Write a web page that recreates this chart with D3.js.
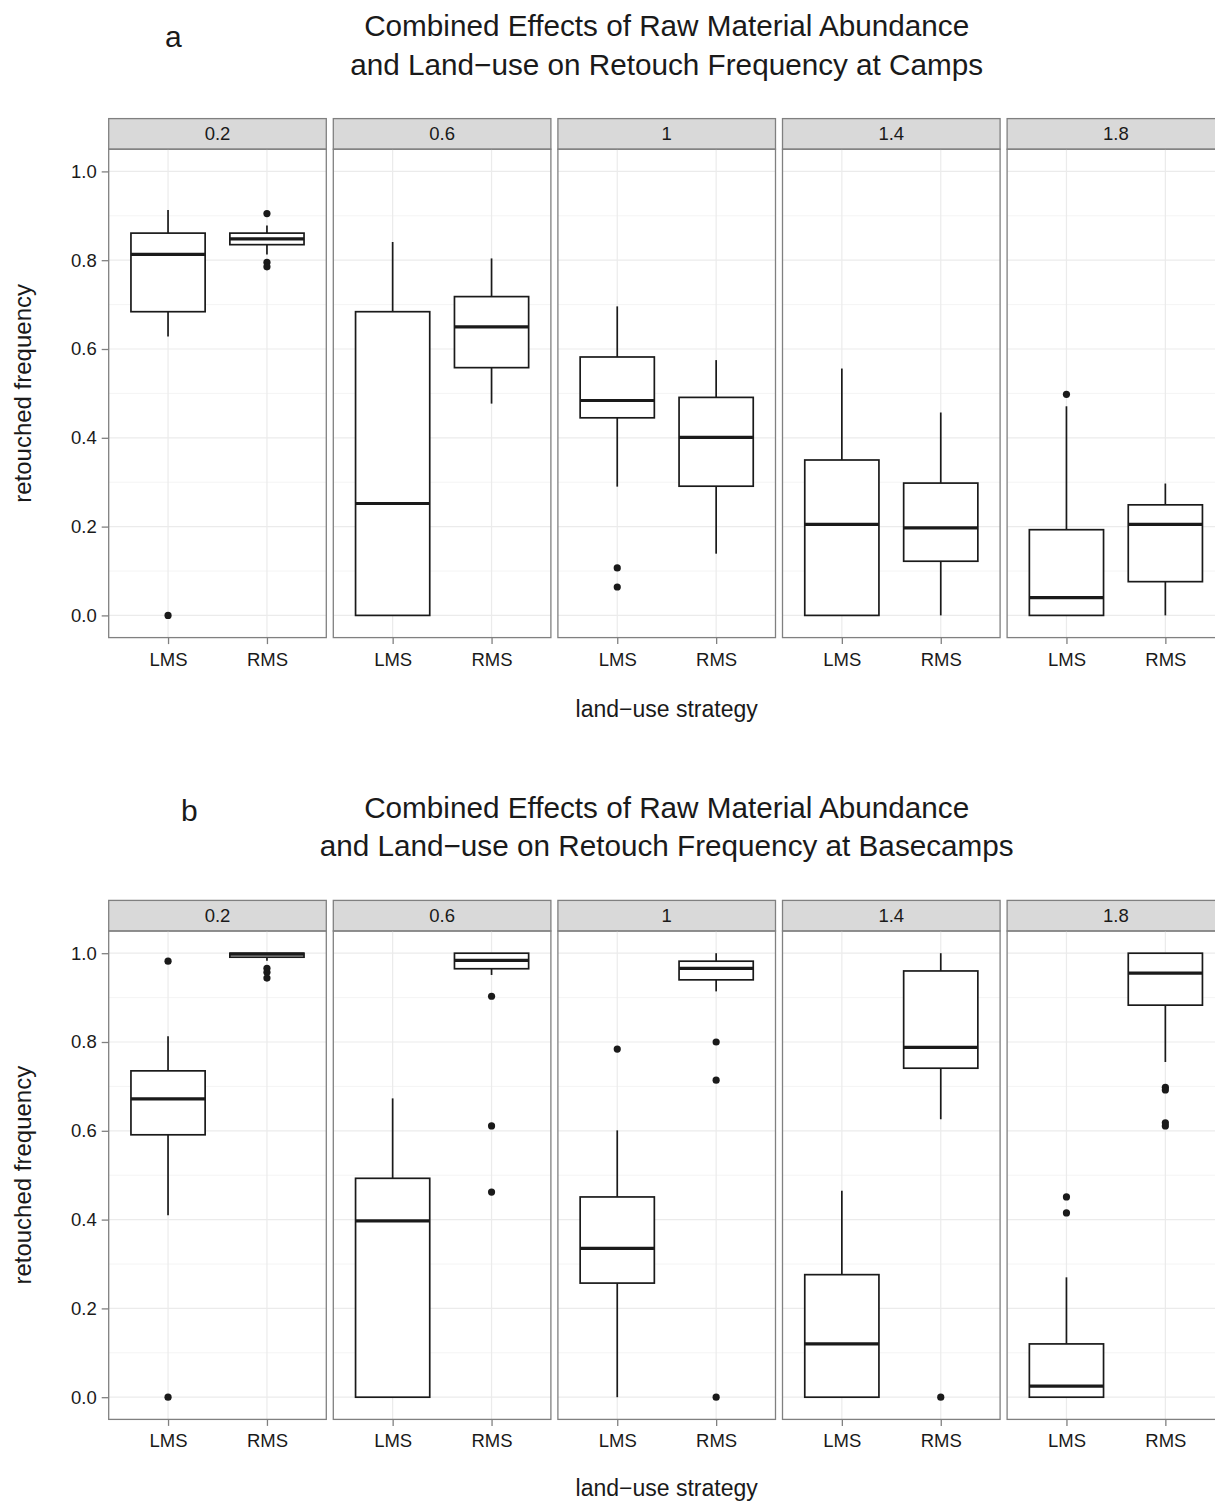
<!DOCTYPE html>
<html>
<head>
<meta charset="utf-8">
<script src="https://cdn.jsdelivr.net/npm/d3@7"></script>
<style>
  body { margin: 0; background: #fff; }
  svg { display: block; font-family: "Liberation Sans", Arial, sans-serif; }
</style>
</head>
<body>
<div id="chart"></div>
<script>
// facets (raw material abundance) and x categories
const facets = ["0.2", "0.6", "1", "1.4", "1.8"];
const strategies = ["LMS", "RMS"];
const yTicks = [0, 0.2, 0.4, 0.6, 0.8, 1.0];
const yMinor = [0.1, 0.3, 0.5, 0.7, 0.9];

// box stats per facet: [lower whisker, q1, median, q3, upper whisker]
const campsLMS = [
  [0.628, 0.684, 0.813, 0.861, 0.913],
  [0.000, 0.000, 0.252, 0.684, 0.841],
  [0.290, 0.445, 0.484, 0.582, 0.696],
  [0.000, 0.000, 0.205, 0.350, 0.556],
  [0.000, 0.000, 0.040, 0.193, 0.471]
];
const campsRMS = [
  [0.813, 0.835, 0.848, 0.861, 0.878],
  [0.477, 0.558, 0.650, 0.718, 0.804],
  [0.139, 0.291, 0.401, 0.491, 0.575],
  [0.000, 0.122, 0.197, 0.298, 0.457],
  [0.000, 0.076, 0.205, 0.249, 0.297]
];
const campsLMSOut = [[0.0], [], [0.107, 0.064], [], [0.498]];
const campsRMSOut = [[0.905, 0.795, 0.785], [], [], [], []];

const baseLMS = [
  [0.410, 0.591, 0.672, 0.735, 0.813],
  [0.000, 0.000, 0.397, 0.493, 0.673],
  [0.000, 0.257, 0.335, 0.451, 0.601],
  [0.000, 0.000, 0.120, 0.276, 0.465],
  [0.000, 0.000, 0.025, 0.120, 0.270]
];
const baseRMS = [
  [0.983, 0.991, 0.998, 1.000, 1.000],
  [0.951, 0.965, 0.984, 1.000, 1.000],
  [0.914, 0.940, 0.966, 0.982, 1.000],
  [0.626, 0.741, 0.788, 0.960, 1.000],
  [0.755, 0.883, 0.955, 1.000, 1.000]
];
const baseLMSOut = [[0.982, 0.0], [], [0.784], [], [0.451, 0.415]];
const baseRMSOut = [[0.966, 0.957, 0.944], [0.903, 0.611, 0.462], [0.800, 0.714, 0.0], [0.0], [0.698, 0.692, 0.618, 0.611]];

const width = 1215, height = 1502;
const svg = d3.select("#chart").append("svg")
  .attr("width", width).attr("height", height);

const figures = [
  { letter: "a", letterX: 165, letterY: 47, top: 0, xTitleY: 717,
    title: ["Combined Effects of Raw Material Abundance",
            "and Land\u2212use on Retouch Frequency at Camps"],
    lms: campsLMS, rms: campsRMS, lmsOut: campsLMSOut, rmsOut: campsRMSOut },
  { letter: "b", letterX: 181, letterY: 821, top: 781.8, xTitleY: 714,
    title: ["Combined Effects of Raw Material Abundance",
            "and Land\u2212use on Retouch Frequency at Basecamps"],
    lms: baseLMS, rms: baseRMS, lmsOut: baseLMSOut, rmsOut: baseRMSOut }
];

const panelLeft = 108.7, panelRight = 1224.7;
const fx = d3.scaleBand().domain(facets).range([panelLeft, panelRight]).paddingInner(0.0312);
const x = d3.scalePoint().domain(strategies).range([0, fx.bandwidth()]).padding(0.6);
const boxW = 0.75 * x.step();

const ink = "#1a1a1a", frame = "#808080";

figures.forEach(fig => {
  const g = svg.append("g").attr("transform", `translate(0,${fig.top})`);
  const stripTop = 118.6, plotTop = 149.2, plotBottom = 637.6;
  const y = d3.scaleLinear().domain([-0.05, 1.05]).range([plotBottom, plotTop]);

  // letter + title
  g.append("text").attr("x", fig.letterX).attr("y", fig.letterY - fig.top)
    .attr("font-size", 30).attr("fill", ink).text(fig.letter);
  g.selectAll("text.title").data(fig.title).join("text")
    .attr("class", "title")
    .attr("x", (panelLeft + panelRight) / 2)
    .attr("y", (d, i) => 36 + i * 38.5)
    .attr("text-anchor", "middle").attr("font-size", 29.7).attr("fill", ink)
    .text(d => d);

  facets.forEach((f, fi) => {
    const p = g.append("g").attr("transform", `translate(${fx(f)},0)`);
    const w = fx.bandwidth();

    // strip
    p.append("rect").attr("x", 0).attr("y", stripTop).attr("width", w).attr("height", plotTop - stripTop)
      .attr("fill", "#d9d9d9").attr("stroke", frame).attr("stroke-width", 1.3);
    p.append("text").attr("x", w / 2).attr("y", (stripTop + plotTop) / 2 + 6.5)
      .attr("text-anchor", "middle").attr("font-size", 18.5).attr("fill", ink).text(f);

    // grid
    p.selectAll("line.minor").data(yMinor).join("line")
      .attr("x1", 0).attr("x2", w).attr("y1", d => y(d)).attr("y2", d => y(d))
      .attr("stroke", "#f4f4f4").attr("stroke-width", 1);
    p.selectAll("line.major").data(yTicks).join("line")
      .attr("x1", 0).attr("x2", w).attr("y1", d => y(d)).attr("y2", d => y(d))
      .attr("stroke", "#ebebeb").attr("stroke-width", 1.2);
    p.selectAll("line.vmajor").data(strategies).join("line")
      .attr("x1", d => x(d)).attr("x2", d => x(d)).attr("y1", plotTop).attr("y2", plotBottom)
      .attr("stroke", "#ebebeb").attr("stroke-width", 1.2);

    // boxes
    const boxes = [
      { s: "LMS", v: fig.lms[fi], out: fig.lmsOut[fi] },
      { s: "RMS", v: fig.rms[fi], out: fig.rmsOut[fi] }
    ];
    boxes.forEach(b => {
      const cx = x(b.s);
      const [lo, q1, med, q3, hi] = b.v;
      if (hi > q3) p.append("line").attr("x1", cx).attr("x2", cx).attr("y1", y(q3)).attr("y2", y(hi))
        .attr("stroke", ink).attr("stroke-width", 1.7);
      if (lo < q1) p.append("line").attr("x1", cx).attr("x2", cx).attr("y1", y(q1)).attr("y2", y(lo))
        .attr("stroke", ink).attr("stroke-width", 1.7);
      p.append("rect").attr("x", cx - boxW / 2).attr("y", y(q3))
        .attr("width", boxW).attr("height", y(q1) - y(q3))
        .attr("fill", "#fff").attr("stroke", ink).attr("stroke-width", 1.7);
      p.append("line").attr("x1", cx - boxW / 2).attr("x2", cx + boxW / 2)
        .attr("y1", y(med)).attr("y2", y(med))
        .attr("stroke", ink).attr("stroke-width", 3.2);
      p.selectAll(null).data(b.out).join("circle")
        .attr("cx", cx).attr("cy", d => y(d)).attr("r", 3.6).attr("fill", ink);
    });

    // panel border
    p.append("rect").attr("x", 0).attr("y", plotTop).attr("width", w).attr("height", plotBottom - plotTop)
      .attr("fill", "none").attr("stroke", frame).attr("stroke-width", 1.3);

    // x axis
    const xa = p.append("g").attr("transform", `translate(0,${plotBottom})`)
      .call(d3.axisBottom(x).tickSize(6.5).tickSizeOuter(0).tickPadding(4));
    xa.select(".domain").remove();
    xa.selectAll("line").attr("stroke", frame).attr("stroke-width", 1.3);
    xa.selectAll("text").attr("font-size", 18.5).attr("fill", ink)
      .attr("font-family", "Liberation Sans, Arial, sans-serif").attr("dy", "0.95em");
  });

  // y axis
  const ya = g.append("g").attr("transform", `translate(${panelLeft},0)`)
    .call(d3.axisLeft(y).tickValues(yTicks).tickFormat(d3.format(".1f")).tickSize(7).tickPadding(5));
  ya.select(".domain").remove();
  ya.selectAll("line").attr("stroke", frame).attr("stroke-width", 1.3);
  ya.selectAll("text").attr("font-size", 18.5).attr("fill", ink)
    .attr("font-family", "Liberation Sans, Arial, sans-serif");

  // axis titles
  g.append("text").attr("transform", `translate(31,${(plotTop + plotBottom) / 2}) rotate(-90)`)
    .attr("text-anchor", "middle").attr("font-size", 24).attr("fill", ink).text("retouched frequency");
  g.append("text").attr("x", (panelLeft + panelRight) / 2).attr("y", fig.xTitleY)
    .attr("text-anchor", "middle").attr("font-size", 23).attr("fill", ink).text("land\u2212use strategy");
});
</script>
</body>
</html>
